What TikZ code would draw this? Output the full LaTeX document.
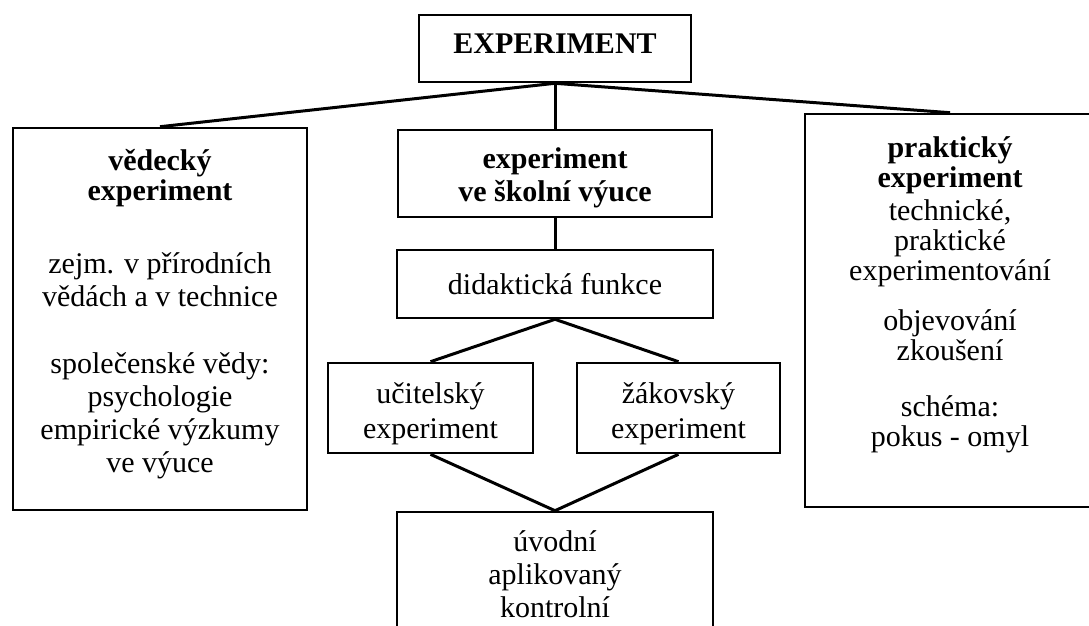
\documentclass[tikz,border=0pt]{standalone}
\usepackage{fontspec}
\setmainfont{Liberation Serif}
\usepackage{tikz}
\usetikzlibrary{positioning}
\tikzset{
    %Define style for boxes
    kbox/.style={
           rectangle,
           draw=black, line width=2.6pt,
           inner sep=0pt,
           align=center,
           font=\fontsize{30}{33}\selectfont},
    % Define line style
    lin/.style={
           draw=black,
           line width=3pt}
}

\begin{document}
\begin{tikzpicture}[x=1pt, y=-1pt]
    % PAGE
    \useasboundingbox (0,0) rectangle (1089,626);
    \clip (0,0) rectangle (1089,626);

    % TOP
    \node[kbox, minimum width=272pt, minimum height=67pt] at (555,48.5) (top)
        {\textbf{EXPERIMENT}\rule[-9pt]{0pt}{9pt}};

    % THREE KINDS
    \node[kbox, minimum width=294pt, minimum height=382pt] at (160,319) (ved)
        {\textbf{vědecký}\\[-3pt] \textbf{experiment}\\[40pt]
         zejm. v přírodních\\ vědách a v technice\\[34pt]
         společenské vědy:\\ psychologie\\ empirické výzkumy\\ ve výuce\rule[-16.5pt]{0pt}{16.5pt}};
    \node[kbox, minimum width=314pt, minimum height=87pt] at (555,173.5) (skol)
        {\rule{0pt}{29pt}\textbf{experiment}\\ \textbf{ve školní výuce}};
    \node[kbox, minimum width=290pt, minimum height=393pt, font=\fontsize{30}{30}\selectfont] at (950,310.5) (prak)
        {\textbf{praktický}\\ \textbf{experiment}\\[3pt]
         technické,\\ praktické\\ experimentování\\[20pt]
         objevování\\ zkoušení\\[26pt]
         schéma:\\ pokus - omyl\rule[-38pt]{0pt}{38pt}};

    % SCHOOL
    \node[kbox, minimum width=316pt, minimum height=68pt] at (555,284) (did) {didaktická funkce};
    \node[kbox, minimum width=205pt, minimum height=90pt, font=\fontsize{30}{35}\selectfont] at (430.5,408) (uci)
        {\rule{0pt}{33pt}učitelský\\ experiment};
    \node[kbox, minimum width=203pt, minimum height=90pt, font=\fontsize{30}{35}\selectfont] at (678.5,408) (zak)
        {\rule{0pt}{33pt}žákovský\\ experiment};
    \node[kbox, minimum width=316pt, minimum height=124pt] at (555,574) (typ)
        {úvodní\\ aplikovaný\\ kontrolní};

    % LINES
    \draw[lin] (top.south) -- (ved.north);
    \draw[lin] (top.south) -- (skol.north);
    \draw[lin] (top.south) -- (prak.north);
    \draw[lin] (skol.south) -- (did.north);
    \draw[lin] (did.south) -- (uci.north);
    \draw[lin] (did.south) -- (zak.north);
    \draw[lin] (uci.south) -- (typ.north);
    \draw[lin] (zak.south) -- (typ.north);

\end{tikzpicture}
\end{document}
